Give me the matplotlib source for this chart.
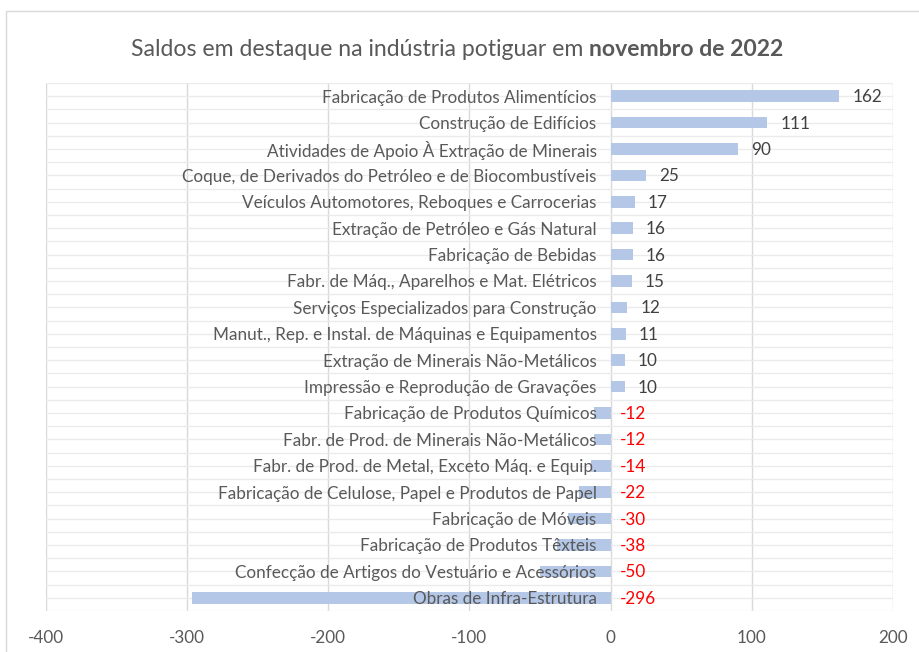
import matplotlib
matplotlib.use("Agg")
import matplotlib.pyplot as plt
import numpy as np
from matplotlib.patches import Rectangle
from matplotlib.transforms import offset_copy

categories = [
    "Fabricação de Produtos Alimentícios",
    "Construção de Edifícios",
    "Atividades de Apoio À Extração de Minerais",
    "Coque, de Derivados do Petróleo e de Biocombustíveis",
    "Veículos Automotores, Reboques e Carrocerias",
    "Extração de Petróleo e Gás Natural",
    "Fabricação de Bebidas",
    "Fabr. de Máq., Aparelhos e Mat. Elétricos",
    "Serviços Especializados para Construção",
    "Manut., Rep. e Instal. de Máquinas e Equipamentos",
    "Extração de Minerais Não-Metálicos",
    "Impressão e Reprodução de Gravações",
    "Fabricação de Produtos Químicos",
    "Fabr. de Prod. de Minerais Não-Metálicos",
    "Fabr. de Prod. de Metal, Exceto Máq. e Equip.",
    "Fabricação de Celulose, Papel e Produtos de Papel",
    "Fabricação de Móveis",
    "Fabricação de Produtos Têxteis",
    "Confecção de Artigos do Vestuário e Acessórios",
    "Obras de Infra-Estrutura",
]
values = [162, 111, 90, 25, 17, 16, 16, 15, 12, 11, 10, 10,
          -12, -12, -14, -22, -30, -38, -50, -296]
xticks = [-400, -300, -200, -100, 0, 100, 200]

FONT = "Lato"
TXT = "#595959"
FS = 12.3
plt.rcParams['font.family'] = [FONT, 'DejaVu Sans']

fig = plt.figure(figsize=(9.19, 6.52), dpi=100)
ax = fig.add_axes([45.5/919, 1-611/652, (893-45.5)/919, (611-83)/652])

y = np.arange(len(categories))
ax.barh(y, values, height=0.44, color="#B4C7E7", zorder=1)

ax.set_xlim(-400, 200)
ax.set_ylim(len(categories)-0.5, -0.5)

# gridlines
for x in xticks:
    ax.axvline(x, color="#D9D9D9", lw=1, zorder=0)
for yy in np.arange(-0.5, len(categories), 0.5):
    ax.axhline(yy, color="#EBEBEB", lw=1, zorder=0)

for s in ax.spines.values():
    s.set_visible(False)
ax.spines['left'].set_position(('data', 0))

ax.set_yticks(y)
ax.set_yticklabels(categories, fontsize=FS, color=TXT)
ax.set_xticks(xticks)
ax.set_xticklabels([str(t) for t in xticks], fontsize=FS, color=TXT)
ax.tick_params(axis='y', length=0, pad=10)
ax.tick_params(axis='x', length=0, pad=14)

for yi, v in zip(y, values):
    if v >= 0:
        tr = offset_copy(ax.transData, fig=fig, x=13, y=-1, units='dots')
        ax.text(v, yi, str(v), transform=tr, ha='left', va='center',
                fontsize=FS, color="#404040")
    else:
        tr = offset_copy(ax.transData, fig=fig, x=9, y=-1, units='dots')
        ax.text(0, yi, str(v), transform=tr, ha='left', va='center',
                fontsize=FS, color="#FF0000")

# title with bold part
t1 = fig.text(0, 1-50/652, "Saldos em destaque na indústria potiguar em ",
              fontsize=16.6, color=TXT, ha='left', va='center')
t2 = fig.text(0, 1-50/652, "novembro de 2022", fontsize=16.6, color=TXT,
              fontweight='bold', ha='left', va='center')
fig.canvas.draw()
r = fig.canvas.get_renderer()
w1 = t1.get_window_extent(r).width
w2 = t2.get_window_extent(r).width
cx = 457
x0 = cx - (w1 + w2) / 2
t1.set_x(x0/919)
t2.set_x((x0 + w1)/919)

fig.add_artist(Rectangle((6/919, -0.1), 1.2, (652-11)/652 + 0.1, fill=False,
                         edgecolor="#D9D9D9", lw=1, transform=fig.transFigure))

fig.savefig("out.png", dpi=100)
